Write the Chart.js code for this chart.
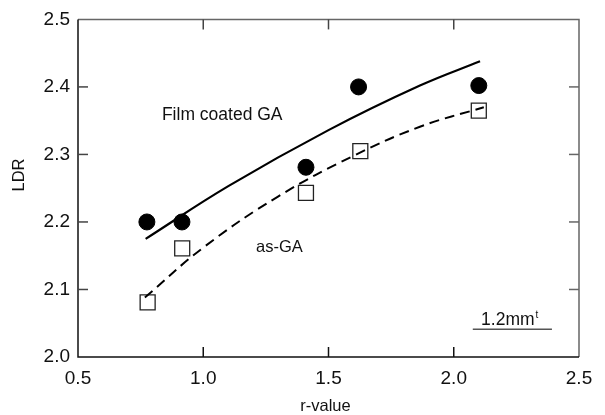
<!DOCTYPE html>
<html>
<head>
<meta charset="utf-8">
<script src="https://cdn.jsdelivr.net/npm/chart.js@4"></script>
<style>
  body { margin: 0; background: #fff; }
  canvas { display: block; }
</style>
</head>
<body>
<canvas id="ldrChart" width="605" height="415"></canvas>
<script>
/* ===============================
   DATA
================================ */

// measured points
const filmR = [0.775, 0.915, 1.41, 1.62, 2.10];
const filmLdr = [2.200, 2.200, 2.281, 2.400, 2.402];
const asgaR = [0.778, 0.916, 1.41, 1.627, 2.10];
const asgaLdr = [2.081, 2.161, 2.243, 2.305, 2.365];

// fitted curves, sampled along the drawn lines
const filmFitR = [0.77, 1.10, 1.50, 1.865, 2.105];
const filmFitLdr = [2.175, 2.253, 2.336, 2.402, 2.438];
const asgaFitR = [0.767, 1.00, 1.30, 1.60, 1.865, 2.12];
const asgaFitLdr = [2.088, 2.162, 2.238, 2.298, 2.341, 2.370];

// axis ticks
const xTicks = [0.5, 1.0, 1.5, 2.0, 2.5];
const yTicks = [2.0, 2.1, 2.2, 2.3, 2.4, 2.5];

const toPoints = (xs, ys) => xs.map((x, i) => ({ x: x, y: ys[i] }));

const FONT = "'Liberation Sans', Arial, sans-serif";

/* ===============================
   FRAME, INWARD TICKS, LABELS
================================ */

const framePlugin = {
  id: "frame",
  beforeDatasetsDraw(chart) {
    const { ctx, chartArea: a, scales } = chart;
    const len = 10;
    ctx.save();
    ctx.lineWidth = 1.5;

    // top + right (grey)
    ctx.strokeStyle = "#666";
    ctx.beginPath();
    ctx.moveTo(a.left, a.top);
    ctx.lineTo(a.right, a.top);
    ctx.lineTo(a.right, a.bottom);
    ctx.stroke();

    // left + bottom (black)
    ctx.strokeStyle = "#111";
    ctx.beginPath();
    ctx.moveTo(a.left, a.top);
    ctx.lineTo(a.left, a.bottom);
    ctx.lineTo(a.right, a.bottom);
    ctx.stroke();

    // inward ticks
    xTicks.slice(1, -1).forEach((v) => {
      const px = scales.x.getPixelForValue(v);
      ctx.strokeStyle = "#111";
      ctx.beginPath();
      ctx.moveTo(px, a.bottom);
      ctx.lineTo(px, a.bottom - len);
      ctx.stroke();
      ctx.strokeStyle = "#444";
      ctx.beginPath();
      ctx.moveTo(px, a.top);
      ctx.lineTo(px, a.top + len);
      ctx.stroke();
    });
    yTicks.slice(1, -1).forEach((v) => {
      const py = scales.y.getPixelForValue(v);
      ctx.strokeStyle = "#444";
      ctx.beginPath();
      ctx.moveTo(a.left, py);
      ctx.lineTo(a.left + len, py);
      ctx.stroke();
      ctx.strokeStyle = "#666";
      ctx.beginPath();
      ctx.moveTo(a.right, py);
      ctx.lineTo(a.right - len, py);
      ctx.stroke();
    });
    ctx.restore();
  },
  afterDraw(chart) {
    const { ctx, scales } = chart;
    const X = (v) => scales.x.getPixelForValue(v);
    const Y = (v) => scales.y.getPixelForValue(v);
    ctx.save();
    ctx.fillStyle = "#111";
    ctx.textBaseline = "alphabetic";
    ctx.textAlign = "left";

    ctx.font = "17.5px " + FONT;
    ctx.fillText("Film coated GA", X(0.835), Y(2.351));
    ctx.font = "16.5px " + FONT;
    ctx.fillText("as-GA", X(1.211), Y(2.156));

    // thickness label
    ctx.font = "17.5px " + FONT;
    const bx = X(2.109), by = Y(2.048);
    ctx.fillText("1.2mm", bx, by);
    const w = ctx.measureText("1.2mm").width;
    ctx.font = "10px " + FONT;
    ctx.fillText("t", bx + w + 1, by - 7);
    ctx.strokeStyle = "#555";
    ctx.lineWidth = 1.5;
    ctx.beginPath();
    ctx.moveTo(X(2.076), Y(2.041));
    ctx.lineTo(X(2.392), Y(2.041));
    ctx.stroke();

    // axis titles
    ctx.font = "16.5px " + FONT;
    ctx.textAlign = "center";
    ctx.fillText("r-value", (chart.chartArea.left + chart.chartArea.right) / 2 - 3, 411);
    ctx.translate(19, 175);
    ctx.rotate(-Math.PI / 2);
    ctx.textBaseline = "middle";
    ctx.fillText("LDR", 0, 0);
    ctx.restore();
  },
};

/* ===============================
   CHART
================================ */

const el = document.getElementById("ldrChart");

new Chart(el, {
  type: "scatter",
  data: {
    datasets: [
      {
        label: "Film coated GA fit",
        data: toPoints(filmFitR, filmFitLdr),
        showLine: true,
        borderColor: "#000",
        borderWidth: 2.2,
        pointRadius: 0,
        tension: 0.4,
      },
      {
        label: "as-GA fit",
        data: toPoints(asgaFitR, asgaFitLdr),
        showLine: true,
        borderColor: "#000",
        borderWidth: 2,
        borderDash: [10, 6],
        pointRadius: 0,
        tension: 0.4,
      },
      {
        label: "Film coated GA",
        data: toPoints(filmR, filmLdr),
        pointStyle: "circle",
        pointRadius: 8,
        backgroundColor: "#000",
        borderColor: "#000",
        borderWidth: 1,
      },
      {
        label: "as-GA",
        data: toPoints(asgaR, asgaLdr),
        pointStyle: "rect",
        pointRadius: 10.6,
        backgroundColor: "rgba(0,0,0,0)",
        borderColor: "#222",
        borderWidth: 1.3,
      },
    ],
  },
  options: {
    responsive: false,
    devicePixelRatio: 1,
    animation: false,
    layout: { padding: { top: 17, right: 26, left: 0, bottom: 0 } },
    plugins: {
      legend: { display: false },
      tooltip: { enabled: false },
    },
    scales: {
      x: {
        type: "linear",
        min: 0.5,
        max: 2.5,
        afterBuildTicks: (s) => { s.ticks = xTicks.map((v) => ({ value: v })); },
        afterFit: (s) => { s.height = 58; },
        grid: { display: false, drawTicks: false },
        border: { display: false },
        ticks: {
          padding: 10,
          color: "#111",
          font: { family: FONT, size: 19 },
          callback: (v) => Number(v).toFixed(1),
        },
      },
      y: {
        type: "linear",
        min: 2.0,
        max: 2.5,
        afterBuildTicks: (s) => { s.ticks = yTicks.map((v) => ({ value: v })); },
        afterFit: (s) => { s.width = 78; },
        grid: { display: false, drawTicks: false },
        border: { display: false },
        ticks: {
          padding: 8,
          color: "#111",
          font: { family: FONT, size: 19 },
          callback: (v) => Number(v).toFixed(1),
        },
      },
    },
  },
  plugins: [framePlugin],
});
</script>
</body>
</html>
